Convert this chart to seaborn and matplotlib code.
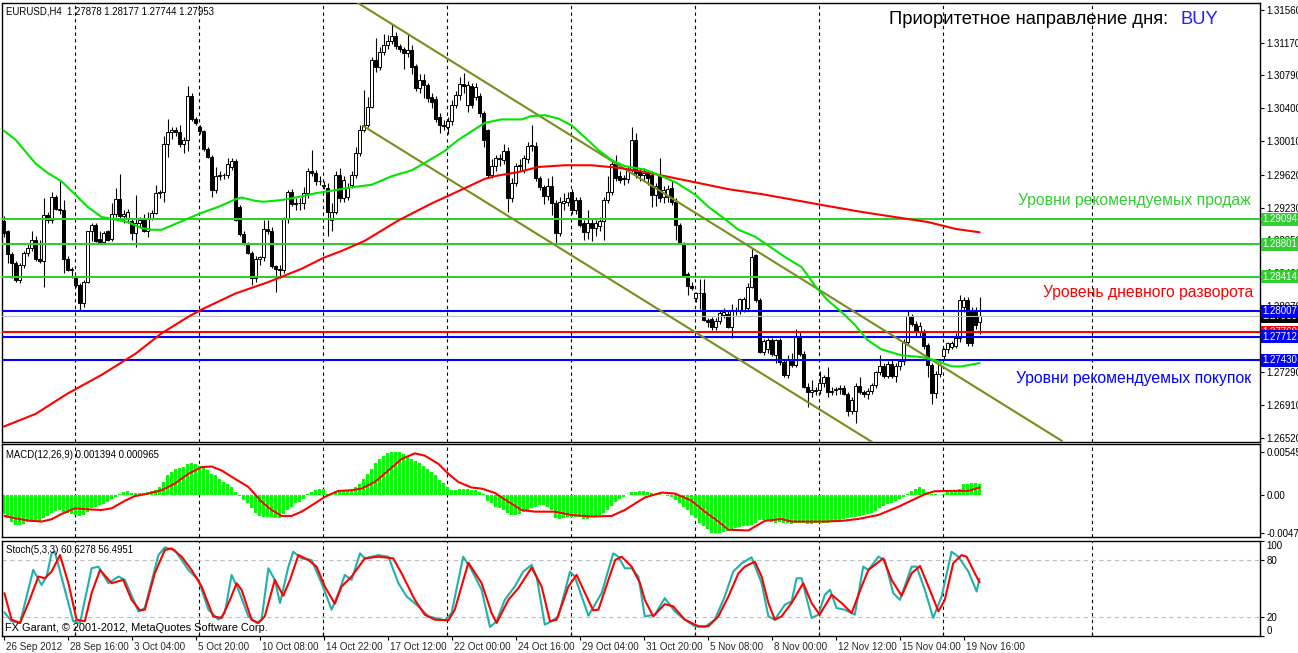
import numpy as np
import matplotlib
matplotlib.use("Agg")
import matplotlib.pyplot as plt
import matplotlib.transforms as mtrans
import seaborn as sns

sns.set_theme(style="white")
plt.rcParams['font.family'] = ['Liberation Sans', 'DejaVu Sans']

# ---------------- data ----------------
opens = [1.2907,1.2895,1.2869,1.2858,1.2838,1.2856,1.2870,1.2876,1.2885,1.2862,
         1.2860,1.2914,1.2909,1.2936,1.2922,1.2920,1.2862,1.2850,1.2840,1.2832,
         1.2811,1.2836,1.2895,1.2903,1.2886,1.2883,1.2895,1.2886,1.2915,1.2933,
         1.2913,1.2910,1.2907,1.2893,1.2905,1.2909,1.2896,1.2911,1.2917,1.2940,
         1.2942,1.2998,1.3012,1.3015,1.3012,1.2998,1.3003,1.3055,1.3027,1.3018,
         1.3013,1.2992,1.2983,1.2944,1.2960,1.2961,1.2962,1.2971,1.2978,1.2924,
         1.2892,1.2880,1.2870,1.2840,1.2862,1.2865,1.2898,1.2895,1.2854,1.2851,
         1.2850,1.2910,1.2942,1.2927,1.2928,1.2929,1.2940,1.2966,1.2964,1.2955,
         1.2950,1.2946,1.2909,1.2918,1.2961,1.2934,1.2936,1.2950,1.2962,1.2988,
         1.3015,1.3020,1.3042,1.3097,1.3089,1.3106,1.3115,1.3120,1.3125,1.3113,
         1.3110,1.3105,1.3109,1.3090,1.3064,1.3074,1.3068,1.3054,1.3051,1.3030,
         1.3021,1.3018,1.3025,1.3044,1.3056,1.3069,1.3044,1.3066,1.3054,1.3055,
         1.3035,1.3014,1.2962,1.2972,1.2981,1.2979,1.2990,1.2934,1.2952,1.2972,
         1.2968,1.2980,1.2996,1.2996,1.2958,1.2947,1.2937,1.2949,1.2928,1.2893,
         1.2929,1.2930,1.2942,1.2920,1.2932,1.2905,1.2894,1.2905,1.2899,1.2901,
         1.2907,1.2932,1.2942,1.2975,1.2960,1.2958,1.2957,1.2969,1.3003,1.2966,
         1.2961,1.2964,1.2962,1.2938,1.2960,1.2936,1.2936,1.2946,1.2930,1.2903,
         1.2881,1.2845,1.2831,1.2816,1.2822,1.2822,1.2791,1.2792,1.2783,1.2789,
         1.2796,1.2798,1.2783,1.2801,1.2802,1.2803,1.2805,1.2830,1.2867,1.2814,
         1.2753,1.2756,1.2767,1.2750,1.2767,1.2741,1.2726,1.2745,1.2738,1.2771,
         1.2751,1.2712,1.2706,1.2707,1.2708,1.2716,1.2724,1.2707,1.2708,1.2709,
         1.2710,1.2704,1.2684,1.2684,1.2713,1.2706,1.2703,1.2707,1.2714,1.2729,
         1.2736,1.2725,1.2739,1.2725,1.2736,1.2742,1.2765,1.2795,1.2786,1.2778,
         1.2776,1.2761,1.2738,1.2705,1.2727,1.2748,1.2756,1.2759,1.2760,1.2769,
         1.2806,1.2814,1.2802,1.2802,1.27878]
highs = [1.2913,1.2897,1.2871,1.2860,1.2858,1.2872,1.2880,1.2896,1.2890,1.2885,
         1.2934,1.2918,1.2942,1.2938,1.2954,1.2932,1.2866,1.2853,1.2842,1.2834,
         1.2838,1.2896,1.2905,1.2905,1.2895,1.2896,1.2897,1.2928,1.2946,1.2963,
         1.2920,1.2922,1.2910,1.2938,1.2912,1.2915,1.2918,1.2920,1.2950,1.2944,
         1.3008,1.3027,1.3018,1.3018,1.3020,1.3006,1.3066,1.3058,1.3030,1.3020,
         1.3015,1.2994,1.2985,1.2971,1.2966,1.2964,1.2981,1.2982,1.2980,1.2926,
         1.2895,1.2882,1.2872,1.2866,1.2866,1.2909,1.2909,1.2900,1.2856,1.2855,
         1.2912,1.2944,1.2945,1.2935,1.2934,1.2947,1.2970,1.2991,1.2967,1.2960,
         1.2955,1.2952,1.2928,1.2966,1.2970,1.2960,1.2952,1.2966,1.2995,1.3020,
         1.3062,1.3054,1.3100,1.3123,1.3112,1.3128,1.3126,1.3140,1.3130,1.3116,
         1.3112,1.3128,1.3115,1.3092,1.3080,1.3080,1.3070,1.3058,1.3055,1.3034,
         1.3026,1.3030,1.3050,1.3060,1.3077,1.3082,1.3072,1.3070,1.3070,1.3058,
         1.3037,1.3016,1.2980,1.2985,1.2986,1.2998,1.2995,1.2958,1.2976,1.2980,
         1.2985,1.3000,1.3021,1.3000,1.2960,1.2950,1.2958,1.2960,1.2932,1.2936,
         1.2940,1.2942,1.2945,1.2936,1.2936,1.2908,1.2920,1.2910,1.2908,1.2912,
         1.2936,1.2960,1.2980,1.2985,1.2966,1.2962,1.2972,1.3018,1.3011,1.2970,
         1.2970,1.2968,1.2966,1.2952,1.2981,1.2948,1.2950,1.2954,1.2934,1.2905,
         1.2883,1.2847,1.2836,1.2824,1.2839,1.2839,1.2793,1.2794,1.2793,1.2802,
         1.2805,1.2802,1.2810,1.2806,1.2816,1.2818,1.2834,1.2875,1.2869,1.2816,
         1.2768,1.2770,1.2770,1.2768,1.2770,1.2744,1.2750,1.2752,1.2780,1.2776,
         1.2754,1.2716,1.2720,1.2712,1.2730,1.2726,1.2735,1.2712,1.2712,1.2714,
         1.2714,1.2706,1.2700,1.2716,1.2724,1.2708,1.2710,1.2716,1.2730,1.2750,
         1.2740,1.2742,1.2744,1.2740,1.2745,1.2768,1.2803,1.2798,1.2789,1.2788,
         1.2780,1.2764,1.2740,1.2730,1.2740,1.2758,1.2765,1.2766,1.2775,1.2820,
         1.2818,1.2818,1.2806,1.2806,1.28177]
lows = [1.2889,1.2858,1.2840,1.2836,1.2834,1.2852,1.2866,1.2872,1.2860,1.2858,
        1.2830,1.2905,1.2905,1.2920,1.2916,1.2846,1.2848,1.2840,1.2830,1.2803,
        1.2806,1.2834,1.2884,1.2883,1.2880,1.2880,1.2884,1.2884,1.2912,1.2910,
        1.2905,1.2905,1.2885,1.2877,1.2900,1.2894,1.2888,1.2908,1.2915,1.2935,
        1.2930,1.2983,1.3004,1.3008,1.2995,1.2988,1.2990,1.3025,1.3020,1.3010,
        1.2990,1.2982,1.2936,1.2940,1.2956,1.2957,1.2958,1.2968,1.2907,1.2890,
        1.2879,1.2869,1.2832,1.2836,1.2855,1.2860,1.2892,1.2852,1.2824,1.2840,
        1.2846,1.2905,1.2925,1.2920,1.2920,1.2922,1.2935,1.2960,1.2950,1.2950,
        1.2945,1.2890,1.2896,1.2915,1.2930,1.2930,1.2932,1.2946,1.2958,1.2984,
        1.3012,1.3018,1.3040,1.3083,1.3085,1.3103,1.3110,1.3116,1.3110,1.3106,
        1.3087,1.3100,1.3080,1.3060,1.3058,1.3052,1.3048,1.3040,1.3024,1.3011,
        1.3014,1.3010,1.3020,1.3040,1.3050,1.3058,1.3036,1.3040,1.3050,1.3030,
        1.2995,1.2958,1.2958,1.2966,1.2972,1.2975,1.2918,1.2930,1.2948,1.2966,
        1.2964,1.2976,1.2990,1.2954,1.2944,1.2927,1.2932,1.2914,1.2881,1.2890,
        1.2920,1.2925,1.2915,1.2916,1.2900,1.2885,1.2886,1.2884,1.2890,1.2896,
        1.2885,1.2928,1.2938,1.2954,1.2952,1.2950,1.2952,1.2965,1.2958,1.2955,
        1.2956,1.2950,1.2924,1.2925,1.2930,1.2928,1.2930,1.2926,1.2885,1.2880,
        1.2843,1.2820,1.2826,1.2812,1.2804,1.2790,1.2783,1.2779,1.2779,1.2786,
        1.2793,1.2781,1.2770,1.2796,1.2798,1.2800,1.2802,1.2828,1.2812,1.2752,
        1.2750,1.2752,1.2748,1.2740,1.2738,1.2724,1.2722,1.2735,1.2735,1.2748,
        1.2710,1.2688,1.2700,1.2702,1.2704,1.2712,1.2700,1.2702,1.2702,1.2703,
        1.2702,1.2677,1.2680,1.2669,1.2704,1.2700,1.2698,1.2704,1.2710,1.2726,
        1.2722,1.2722,1.2722,1.2718,1.2732,1.2738,1.2762,1.2784,1.2772,1.2772,
        1.2757,1.2724,1.2692,1.2699,1.2724,1.2745,1.2752,1.2756,1.2758,1.2765,
        1.2800,1.2760,1.2760,1.2780,1.27744]
closes = [1.2893,1.2869,1.2858,1.2838,1.2856,1.2870,1.2876,1.2885,1.2862,1.2860,
          1.2914,1.2909,1.2936,1.2922,1.2920,1.2862,1.2850,1.2851,1.2832,1.2811,
          1.2836,1.2895,1.2903,1.2884,1.2882,1.2893,1.2885,1.2915,1.2933,1.2913,
          1.2916,1.2918,1.2893,1.2905,1.2909,1.2896,1.2911,1.2917,1.2940,1.2942,
          1.2998,1.3012,1.3015,1.3012,1.2998,1.3003,1.3055,1.3027,1.3023,1.3013,
          1.2992,1.2983,1.2944,1.2960,1.2961,1.2962,1.2975,1.2978,1.2909,1.2892,
          1.2880,1.2870,1.2840,1.2862,1.2865,1.2898,1.2895,1.2854,1.2851,1.2850,
          1.2910,1.2942,1.2927,1.2928,1.2929,1.2940,1.2966,1.2964,1.2955,1.2954,
          1.2948,1.2918,1.2918,1.2961,1.2935,1.2956,1.2946,1.2962,1.2988,1.3015,
          1.3020,1.3042,1.3097,1.3089,1.3107,1.3115,1.3120,1.3125,1.3113,1.3110,
          1.3105,1.3109,1.3089,1.3064,1.3074,1.3068,1.3052,1.3048,1.3028,1.3020,
          1.3019,1.3025,1.3044,1.3056,1.3069,1.3066,1.3068,1.3044,1.3065,1.3034,
          1.3003,1.2962,1.2972,1.2981,1.2980,1.2990,1.2934,1.2952,1.2972,1.2973,
          1.2981,1.2996,1.2997,1.2958,1.2947,1.2937,1.2949,1.2928,1.2893,1.2930,
          1.2931,1.2934,1.2920,1.2932,1.2903,1.2894,1.2905,1.2899,1.2905,1.2907,
          1.2932,1.2942,1.2975,1.2958,1.2956,1.2957,1.2969,1.3003,1.2964,1.2962,
          1.2964,1.2958,1.2938,1.2948,1.2935,1.2944,1.2945,1.2930,1.2903,1.2881,
          1.2844,1.2831,1.2828,1.2822,1.2823,1.2791,1.2788,1.2783,1.2789,1.2799,
          1.2800,1.2783,1.2801,1.2802,1.2815,1.2815,1.2830,1.2865,1.2814,1.2753,
          1.2766,1.2767,1.2751,1.2767,1.2741,1.2726,1.2745,1.2738,1.2771,1.2751,
          1.2712,1.2706,1.2708,1.2708,1.2716,1.2724,1.2706,1.2706,1.2709,1.2710,
          1.2704,1.2684,1.2696,1.2713,1.2706,1.2703,1.2707,1.2714,1.2729,1.2736,
          1.2725,1.2739,1.2725,1.2736,1.2742,1.2765,1.2795,1.2786,1.2776,1.2784,
          1.2760,1.2738,1.2705,1.2727,1.2738,1.2756,1.2763,1.2763,1.2769,1.2814,
          1.2814,1.2763,1.2763,1.2785,1.27953]

ma_fast_bar = [0, 3, 8, 11, 14.5, 18, 21, 24.5, 28, 31, 34.5, 37, 39.5, 43, 46, 49.5, 53.7, 58,
               59.5, 63, 65, 69.5, 73, 78, 82, 87, 92, 97, 102, 105, 110, 113.7, 117, 120.3,
               124.5, 129.5, 132, 135.3, 138.7, 142, 145.3, 148.7, 152, 155.3, 160.3, 164.5,
               168, 173, 176.2, 180.5, 183.7, 187.8, 191, 195.3, 199.5, 203, 206, 209.5,
               212.8, 216, 219.5, 224.5, 229.5, 233, 237, 239.5, 244]
ma_fast_val = [1.3014, 1.3003, 1.2975, 1.2964, 1.2954, 1.2938, 1.2924, 1.2912, 1.2909, 1.2906,
               1.2899, 1.2897, 1.2897, 1.2904, 1.2910, 1.2917, 1.2924, 1.2933, 1.2935, 1.2931,
               1.2930, 1.2932, 1.2935, 1.2940, 1.2943, 1.2947, 1.2950, 1.2960, 1.2967, 1.2975,
               1.2989, 1.3003, 1.3013, 1.3023, 1.3027, 1.3027, 1.3031, 1.3032, 1.3028, 1.3020,
               1.3006, 1.2991, 1.2979, 1.2972, 1.2968, 1.2960, 1.2953, 1.2938, 1.2924, 1.2909,
               1.2897, 1.2889, 1.2879, 1.2865, 1.2853, 1.2830, 1.2814, 1.2800, 1.2785, 1.2767,
               1.2756, 1.2749, 1.2747, 1.2743, 1.2736, 1.2736, 1.2740]
ma_slow_bar = [0, 8, 16, 24.5, 33, 39.5, 46, 49.5, 58, 66, 74.5, 80, 84.5, 90.3, 98.7, 107,
               115.3, 120.3, 123.7, 128.7, 133.7, 140.3, 147, 153.7, 160.3, 164.5, 172.8, 181,
               189.5, 197.8, 206, 214.5, 222.8, 231.2, 238, 244]
ma_slow_val = [1.2665, 1.2680, 1.2704, 1.2726, 1.2751, 1.2775, 1.2794, 1.2803, 1.2822, 1.2835,
               1.2851, 1.2864, 1.2872, 1.2884, 1.2908, 1.2928, 1.2946, 1.2957, 1.2961, 1.2965,
               1.2971, 1.2973, 1.2973, 1.2970, 1.2965, 1.2961, 1.2953, 1.2945, 1.2939, 1.2932,
               1.2925, 1.2918, 1.2912, 1.2906, 1.2898, 1.2894]

channel_top_bar = [88.6, 264.6]
channel_top_val = [1.31642, 1.26481]
channel_bot_bar = [89.9, 217.1]
channel_bot_val = [1.30193, 1.26469]

sell_levels = [1.29094, 1.28801, 1.28414]
buy_levels = [1.28007, 1.27712, 1.27430]
pivot_level = 1.27760
bid_price = 1.27953

price_ticks = [1.31560, 1.31170, 1.30790, 1.30400, 1.30010, 1.29620, 1.29230,
               1.28850, 1.28460, 1.28070, 1.27680, 1.27290, 1.26910, 1.26520]

macd_hist = [-0.00237,-0.00291,-0.00333,-0.00374,-0.00379,-0.00362,-0.00333,-0.00333,-0.00333,-0.00333,
             -0.00291,-0.00262,-0.00220,-0.00196,-0.00187,-0.00208,-0.00220,-0.00237,-0.00250,-0.00262,
             -0.00250,-0.00208,-0.00166,-0.00146,-0.00125,-0.00112,-0.00083,-0.00054,-0.00021,0.00021,
             0.00042,0.00050,0.00029,0.00029,0.00029,0.00029,0.00042,0.00054,0.00071,0.00104,
             0.00166,0.00250,0.00291,0.00333,0.00345,0.00354,0.00395,0.00404,0.00395,0.00374,
             0.00345,0.00312,0.00270,0.00250,0.00208,0.00166,0.00146,0.00104,0.00042,-0.00012,
             -0.00062,-0.00104,-0.00166,-0.00220,-0.00262,-0.00279,-0.00270,-0.00279,-0.00291,-0.00291,
             -0.00237,-0.00187,-0.00146,-0.00104,-0.00083,-0.00054,0.00021,0.00042,0.00071,0.00083,
             0.00083,0.00021,0.00012,0.00054,0.00062,0.00062,0.00071,0.00083,0.00104,0.00146,
             0.00208,0.00270,0.00333,0.00404,0.00458,0.00499,0.00528,0.00545,0.00545,0.00545,
             0.00520,0.00499,0.00458,0.00437,0.00404,0.00374,0.00333,0.00291,0.00250,0.00196,
             0.00154,0.00104,0.00071,0.00071,0.00083,0.00083,0.00083,0.00071,0.00062,0.00042,
             0.00012,-0.00071,-0.00104,-0.00146,-0.00166,-0.00187,-0.00229,-0.00250,-0.00250,-0.00237,
             -0.00208,-0.00187,-0.00166,-0.00146,-0.00125,-0.00125,-0.00146,-0.00187,-0.00291,-0.00304,
             -0.00291,-0.00279,-0.00279,-0.00270,-0.00279,-0.00304,-0.00304,-0.00279,-0.00270,-0.00250,
             -0.00229,-0.00187,-0.00137,-0.00083,-0.00054,-0.00021,0.00004,0.00042,0.00042,0.00050,
             0.00050,0.00042,0.00029,0.00021,0.00012,-0.00004,-0.00012,-0.00029,-0.00062,-0.00104,
             -0.00146,-0.00187,-0.00250,-0.00291,-0.00345,-0.00387,-0.00428,-0.00477,-0.00477,-0.00477,
             -0.00470,-0.00458,-0.00437,-0.00416,-0.00404,-0.00395,-0.00387,-0.00374,-0.00354,-0.00312,
             -0.00312,-0.00312,-0.00333,-0.00345,-0.00333,-0.00345,-0.00354,-0.00362,-0.00354,-0.00345,
             -0.00354,-0.00362,-0.00362,-0.00354,-0.00354,-0.00345,-0.00345,-0.00333,-0.00333,-0.00312,
             -0.00304,-0.00291,-0.00279,-0.00270,-0.00262,-0.00250,-0.00237,-0.00220,-0.00196,-0.00166,
             -0.00137,-0.00112,-0.00096,-0.00071,-0.00054,-0.00029,0.00012,0.00054,0.00083,0.00104,
             0.00083,0.00042,0.00021,0.00012,0.00004,0.00012,0.00042,0.00042,0.00042,0.00083,
             0.00137,0.00146,0.00154,0.00158,0.001394]
macd_sig_bar = [0.2, 2.8, 6.2, 9.5, 12, 14.5, 17.8, 21.2, 24.5, 27, 30.3, 32.8, 36.2, 39.5, 42.8,
                46.2, 49.5, 52, 54.5, 57.8, 61.2, 64.5, 67, 69.5, 72, 74.5, 77.8, 80.3, 83.7, 87,
                89.5, 92.8, 96.2, 99.5, 102.8, 105.3, 108.7, 111.2, 113.7, 117, 119.5, 122.8,
                125.3, 129.5, 132.8, 137.8, 142, 147, 152, 155.3, 160.3, 164.5, 167.8, 172,
                175.3, 178.7, 181.2, 186.2, 190.3, 194.5, 197, 205.3, 209.5, 213.7, 218.7,
                223.7, 230.3, 232.8, 237, 241.2, 244]
macd_sig_val = [-0.00262, -0.00291, -0.00320, -0.00333, -0.00304, -0.00237, -0.00166, -0.00179,
                -0.00187, -0.00166, -0.00071, -0.00012, 0.00021, 0.00062, 0.00146, 0.00270,
                0.00354, 0.00362, 0.00312, 0.00208, 0.00104, -0.00083, -0.00187, -0.00262,
                -0.00262, -0.00208, -0.00104, -0.00021, 0.00054, 0.00062, 0.00083, 0.00166,
                0.00312, 0.00458, 0.00528, 0.00499, 0.00395, 0.00270, 0.00166, 0.00096, 0.00083,
                0.00029, -0.00054, -0.00187, -0.00208, -0.00208, -0.00250, -0.00270, -0.00262,
                -0.00187, -0.00029, 0.00033, 0.00021, -0.00071, -0.00208, -0.00333, -0.00437,
                -0.00445, -0.00324, -0.00300, -0.00333, -0.00333, -0.00324, -0.00300, -0.00250,
                -0.00146, 0.00012, 0.00050, 0.00054, 0.00054, 0.000965]

stoch_main_bar = [0.2, 2, 4.1, 5.75, 7.4, 9.5, 10.75, 12, 12.8, 17.4, 19.1, 22, 23.7, 26.2, 28.7,
                  30.3, 33.7, 35.3, 38.7, 40.3, 42.8, 46.2, 48.7, 51.2, 53.7, 55.3, 57, 58.7, 61.2,
                  63.25, 64.5, 66.2, 67.8, 69.1, 71.2, 72.4, 74.5, 77, 79.5, 82, 83.7, 85.3, 87,
                  89.1, 90.3, 93.7, 96.2, 98.7, 100.75, 103.7, 106.2, 110.3, 112, 114.9, 117,
                  119.5, 121.6, 123.25, 125.3, 127.8, 129.9, 132, 133.25, 135.3, 137, 138.7,
                  141.6, 142.8, 146.2, 149.5, 152.4, 153.7, 155.3, 157, 158.7, 160.3, 162.8,
                  165.3, 167.8, 170.3, 172.8, 175.3, 177.8, 180.3, 182.4, 184.5, 187, 189.5,
                  191.2, 192.8, 195.3, 197, 198.25, 199.5, 202, 203.7, 205.3, 206.6, 208.25,
                  210.3, 212.8, 214.9, 216.2, 218.7, 220.3, 222.4, 224.1, 227, 228.25, 230.3,
                  232.4, 234.5, 237, 238.7, 241.2, 243.25, 244]
stoch_main_val = [24.9, 15.5, 13.7, 41.6, 69.5, 53.8, 62.6, 87.0, 88.7, 15.5, 13.7, 71.3, 73.0,
                  55.6, 62.6, 59.1, 25.9, 29.4, 85.2, 93.3, 90.5, 69.5, 59.1, 27.7, 17.2, 24.2,
                  64.3, 48.6, 20.7, 13.7, 17.2, 71.3, 59.1, 34.7, 73.0, 88.7, 81.7, 80.0, 55.6,
                  27.7, 45.1, 64.3, 59.1, 87.0, 81.7, 85.2, 83.5, 55.6, 41.6, 31.2, 20.7, 16.5,
                  24.2, 83.5, 69.5, 48.6, 9.5, 15.5, 38.1, 52.1, 67.8, 74.8, 62.6, 12.0, 15.5,
                  20.7, 67.8, 62.6, 21.4, 45.1, 87.0, 83.5, 71.3, 71.3, 62.6, 20.7, 22.4, 39.9,
                  25.9, 17.2, 10.2, 9.5, 17.2, 41.6, 67.8, 76.5, 82.8, 55.6, 20.7, 17.2, 32.9,
                  36.4, 60.8, 60.8, 19.0, 22.4, 43.4, 48.6, 29.4, 27.7, 22.4, 73.0, 69.5, 83.5,
                  80.0, 45.1, 38.1, 73.0, 73.0, 48.6, 19.0, 41.6, 88.7, 83.5, 67.8, 46.9, 60.63]
stoch_sig_bar = [0.2, 2, 4.1, 6.2, 8.7, 10.3, 12, 14.1, 16.2, 18.25, 20.3, 22, 24.1, 27, 29.9, 32,
                 34.1, 35.3, 37.8, 40.3, 42, 44.5, 47, 49.5, 52.4, 54.5, 56.6, 58.25, 59.5, 62,
                 63.7, 65.3, 67.8, 69.9, 71.6, 73.7, 76.2, 78.25, 80.3, 82.8, 84.5, 87, 90.3,
                 93.7, 97.4, 99.5, 102.8, 105.3, 107.8, 111.2, 112.8, 116.2, 119.5, 122, 123.25,
                 126.2, 128.7, 132, 134.5, 136.6, 138.25, 141.2, 143.25, 145.75, 147.4, 148.7,
                 151.2, 152.9, 154.5, 157, 159.1, 160.3, 162.4, 165.3, 167.4, 170.3, 173.7,
                 176.2, 178.7, 181.2, 183.7, 185.3, 187.8, 189.5, 191.2, 192.8, 194.5, 197,
                 199.9, 202, 204, 207, 209.5, 212, 214.5, 216.2, 219.9, 222, 224.5, 227, 229.1,
                 231.2, 233.7, 235.3, 237.4, 239.5, 240.75, 242.8, 244]
stoch_sig_val = [45.1, 17.2, 13.7, 34.7, 62.6, 60.8, 67.8, 85.2, 55.6, 17.2, 15.5, 45.1, 69.5,
                 55.6, 59.1, 38.1, 27.0, 27.7, 66.0, 90.5, 92.2, 83.5, 69.5, 52.1, 20.7, 19.0,
                 38.1, 55.6, 48.6, 17.2, 13.7, 20.7, 59.1, 42.3, 59.1, 85.2, 80.0, 73.0, 52.1,
                 34.0, 52.1, 62.6, 81.7, 83.5, 81.7, 66.0, 38.1, 22.4, 17.2, 16.5, 27.7, 77.2,
                 55.6, 24.2, 13.7, 38.1, 50.4, 72.0, 52.1, 15.5, 17.2, 52.1, 64.3, 41.6, 27.0,
                 27.7, 59.1, 80.0, 83.5, 73.0, 55.6, 38.1, 20.7, 33.6, 31.2, 17.2, 10.2, 10.2,
                 20.7, 41.6, 66.0, 73.0, 78.3, 62.6, 34.7, 17.2, 20.7, 34.7, 55.6, 34.7, 22.4,
                 43.4, 34.7, 24.2, 52.1, 69.5, 81.7, 59.1, 42.3, 66.0, 73.7, 52.1, 25.9, 38.1,
                 76.5, 85.2, 83.5, 66.0, 56.50]

date_labels = ['26 Sep 2012', '28 Sep 16:00', '3 Oct 04:00', '5 Oct 20:00', '10 Oct 08:00',
               '14 Oct 22:00', '17 Oct 12:00', '22 Oct 00:00', '24 Oct 16:00', '29 Oct 04:00',
               '31 Oct 20:00', '5 Nov 08:00', '8 Nov 00:00', '12 Nov 12:00', '15 Nov 04:00',
               '19 Nov 16:00']
date_label_bars = [0, 16, 32, 48, 64, 80, 96, 112, 128, 144, 160, 176, 192, 208, 224, 240]
grid_bars = [17.9, 48.9, 79.9, 110.9, 141.9, 172.9, 203.9, 234.9, 272.1]

header_text = "EURUSD,H4  1.27878 1.28177 1.27744 1.27953"
macd_text = "MACD(12,26,9) 0.001394 0.000965"
stoch_text = "Stoch(5,3,3) 60.6278 56.4951"
copyright_text = "FX Garant, © 2001-2012, MetaQuotes Software Corp."

# ---------------- layout ----------------
W, H = 1298, 653
fig = plt.figure(figsize=(W / 100, H / 100), dpi=100)
fig.patch.set_facecolor('white')


def rect(x0, y0, x1, y1):
    return [x0 / W, 1 - y1 / H, (x1 - x0) / W, (y1 - y0) / H]


ax = fig.add_axes(rect(2, 3, 1260, 442))
axm = fig.add_axes(rect(2, 444, 1260, 537), sharex=ax)
axs = fig.add_axes(rect(2, 541, 1260, 636), sharex=ax)

XMIN, XMAX = -0.4, 314.1
TICK_FS = 7.0
for a in (ax, axm, axs):
    a.set_facecolor('white')
    for sp in a.spines.values():
        sp.set_color('black')
        sp.set_linewidth(1.0)
    a.grid(False)
    for gb in grid_bars:
        a.axvline(gb, color='black', lw=0.8, linestyle=(0, (3, 3)), zorder=1)
    a.yaxis.tick_right()
    a.tick_params(axis='y', which='both', direction='out', length=3, width=0.8,
                  color='black', labelsize=TICK_FS, pad=1.5, labelcolor='black', right=True, left=False)
    a.tick_params(axis='x', which='both', bottom=False, labelbottom=False)
ax.set_xlim(XMIN, XMAX)

# ---------------- main price panel ----------------
x = np.arange(len(closes))
o = np.array(opens); h = np.array(highs); l = np.array(lows); c = np.array(closes)
ax.vlines(x, l, h, color='black', lw=0.8, zorder=2)
body_lo = np.minimum(o, c)
body_h = np.maximum(np.abs(c - o), 0.00002)
fills = np.where(c >= o, 'white', 'black')
ax.bar(x, body_h, bottom=body_lo, width=0.62, color=fills, edgecolor='black',
       linewidth=0.7, zorder=3)

for lv in sell_levels:
    ax.axhline(lv, color='#33CC33', lw=1.5, zorder=4)
ax.axhline(bid_price, color='#C0C0C0', lw=0.8, zorder=4)
ax.axhline(pivot_level, color='#FF0000', lw=1.5, zorder=4)
for lv in buy_levels:
    ax.axhline(lv, color='#0000FF', lw=1.5, zorder=4)

sns.lineplot(x=channel_top_bar, y=channel_top_val, ax=ax, color='#7A8C1E', lw=1.5,
             estimator=None, sort=False, zorder=5)
sns.lineplot(x=channel_bot_bar, y=channel_bot_val, ax=ax, color='#7A8C1E', lw=1.5,
             estimator=None, sort=False, zorder=5)
sns.lineplot(x=ma_slow_bar, y=ma_slow_val, ax=ax, color='#FF0000', lw=1.5,
             estimator=None, sort=False, zorder=6)
sns.lineplot(x=ma_fast_bar, y=ma_fast_val, ax=ax, color='#00E600', lw=1.5,
             estimator=None, sort=False, zorder=6)

ax.set_ylim(1.26469, 1.31642)
ax.set_yticks(price_ticks)
ax.set_yticklabels([f"{v:.5f}" for v in price_ticks])
ax.set_ylabel('')
ax.set_xlabel('')

# coloured price boxes on the right axis
box_tr = mtrans.blended_transform_factory(ax.transAxes, ax.transData)
box_x = 1.0022


def price_box(val, fc):
    ax.text(box_x, val, f"{val:.5f}", transform=box_tr, ha='left', va='center',
            fontsize=TICK_FS, color='white', clip_on=False, zorder=20,
            bbox=dict(boxstyle='square,pad=0.15', fc=fc, ec='none'))


for lv in sell_levels:
    price_box(lv, '#33CC33')
price_box(bid_price, '#000000')
price_box(pivot_level, '#FF0000')
for lv in buy_levels:
    price_box(lv, '#0000FF')


def ftext(px, py, s, **kw):
    fig.text(px / W, 1 - py / H, s, **kw)


ftext(6, 12, header_text, fontsize=6.9, color='black', va='center', ha='left')
ftext(889, 20, "Приоритетное направление дня:", fontsize=13.2, color='black', va='center', ha='left')
ftext(1180, 20, "BUY", fontsize=13.2, color='#1E1EFF', va='center', ha='left')
ftext(1251, 201, "Уровни рекомендуемых продаж", fontsize=11.3, color='#33CC33', va='center', ha='right')
ftext(1253, 293, "Уровень дневного разворота", fontsize=11.3, color='#FF0000', va='center', ha='right')
ftext(1251, 378, "Уровни рекомендуемых покупок", fontsize=11.3, color='#0000FF', va='center', ha='right')

# ---------------- MACD panel ----------------
axm.bar(x, macd_hist, width=0.75, color='#00FF00', linewidth=0, zorder=2)
sns.lineplot(x=macd_sig_bar, y=macd_sig_val, ax=axm, color='#FF0000', lw=1.5,
             estimator=None, sort=False, zorder=3)
axm.set_ylim(-0.00528, 0.00646)
axm.set_yticks([0.00545, 0.0, -0.00477])
axm.set_yticklabels(['0.00545', '0.00', '-0.00477'])
axm.set_ylabel('')
ftext(6, 455, macd_text, fontsize=6.9, color='black', va='center', ha='left')

# ---------------- Stochastic panel ----------------
axs.axhline(80, color='#C0C0C0', lw=0.8, linestyle=(0, (4, 3)), zorder=1)
axs.axhline(20, color='#C0C0C0', lw=0.8, linestyle=(0, (4, 3)), zorder=1)
sns.lineplot(x=stoch_main_bar, y=stoch_main_val, ax=axs, color='#20B2AA', lw=1.5,
             estimator=None, sort=False, zorder=3)
sns.lineplot(x=stoch_sig_bar, y=stoch_sig_val, ax=axs, color='#FF0000', lw=1.5,
             estimator=None, sort=False, zorder=4)
axs.set_ylim(0, 100)
axs.set_yticks([100, 80, 20, 0])
axs.set_yticklabels(['100', '80', '20', '0'])
axs.set_ylabel('')
ylabs = axs.get_yticklabels()
ylabs[0].set_verticalalignment('top')
ylabs[3].set_verticalalignment('bottom')
ftext(6, 550, stoch_text, fontsize=6.9, color='black', va='center', ha='left')
ftext(5, 628, copyright_text, fontsize=7.9, color='black', va='center', ha='left', zorder=10)

axs.set_xticks(date_label_bars)
axs.set_xticklabels(date_labels)
axs.set_xticks(grid_bars, minor=True)
axs.tick_params(axis='x', which='major', bottom=True, labelbottom=True, direction='out',
                length=3, width=0.8, color='black', labelsize=7.1, pad=1)
axs.tick_params(axis='x', which='minor', bottom=True, direction='in', length=3, width=0.8,
                color='black')
off = mtrans.ScaledTranslation(2 / 100, 0, fig.dpi_scale_trans)
for lab in axs.get_xticklabels():
    lab.set_horizontalalignment('left')
    lab.set_transform(lab.get_transform() + off)
axs.set_xlabel('')
axs.set_xlim(XMIN, XMAX)

for a in (ax, axm, axs):
    leg = a.get_legend()
    if leg is not None:
        leg.remove()

fig.savefig('out.png', dpi=100, facecolor='white')
